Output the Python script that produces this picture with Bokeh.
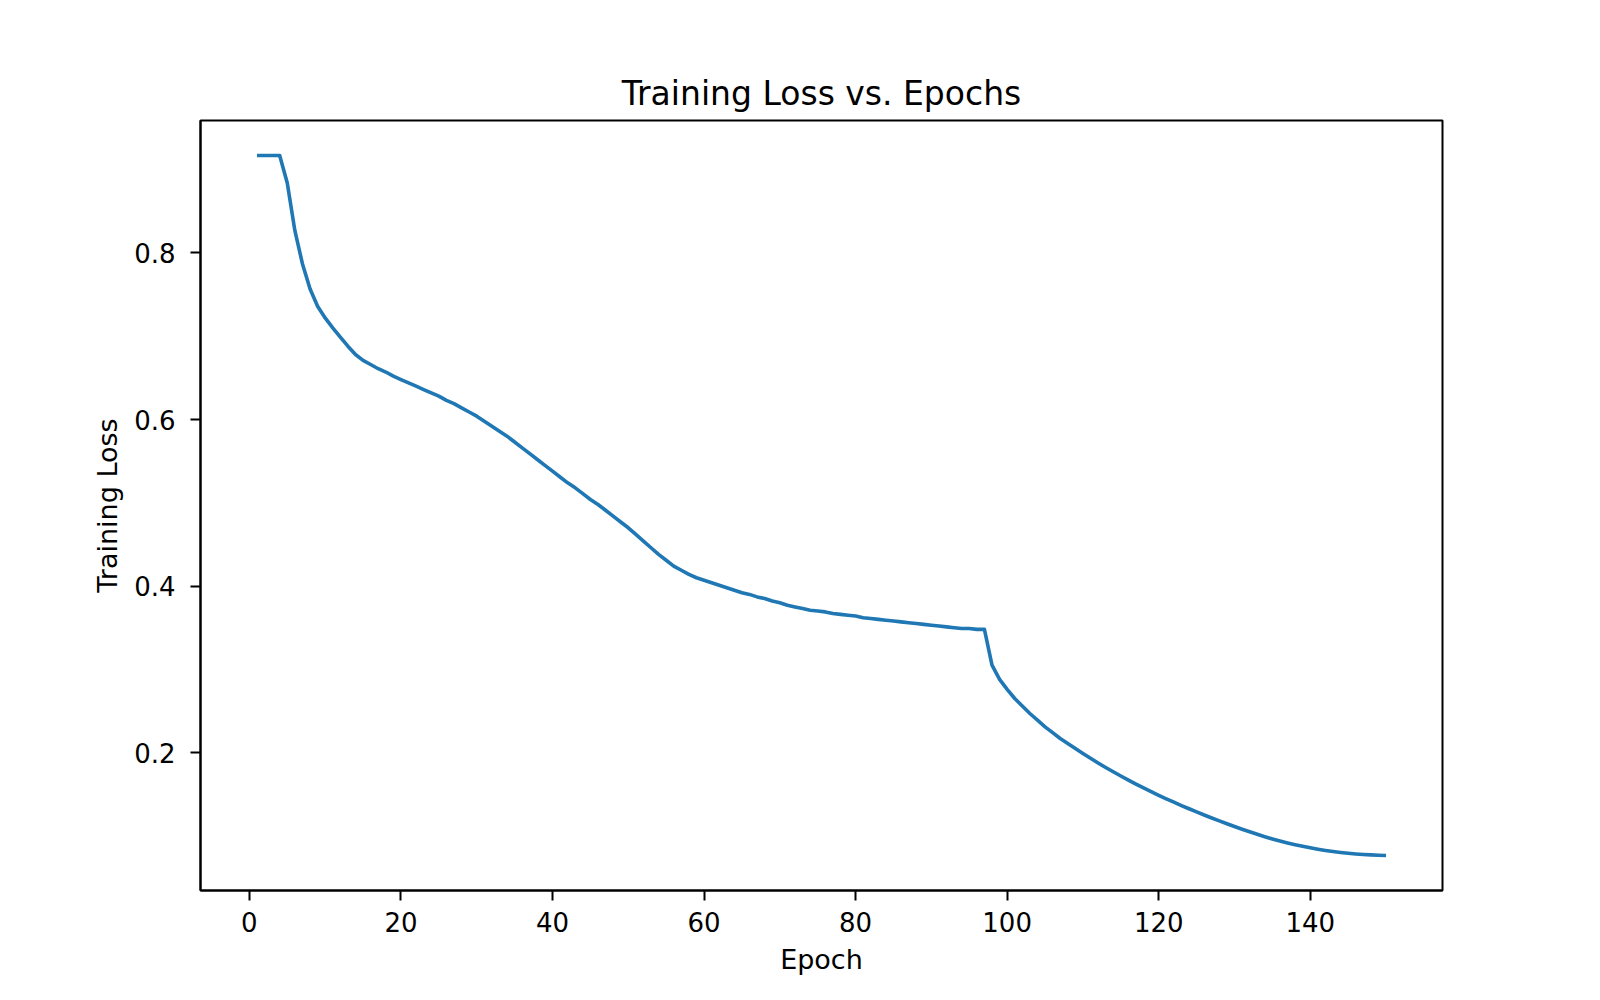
from bokeh.plotting import figure
from bokeh.models import Range1d, FixedTicker
from bokeh.embed import file_html
from bokeh.resources import INLINE

# Training loss recorded at every epoch (1..150)
epochs = list(range(1, 151))
loss = [
    0.917, 0.917, 0.917, 0.917, 0.884, 0.827, 0.787, 0.757, 0.736, 0.722,
    0.710, 0.699, 0.688, 0.678, 0.671, 0.666, 0.661, 0.657, 0.652, 0.648,
    0.644, 0.640, 0.636, 0.632, 0.628, 0.623, 0.619, 0.614, 0.609, 0.604,
    0.598, 0.592, 0.586, 0.580, 0.573, 0.566, 0.559, 0.552, 0.545, 0.538,
    0.531, 0.524, 0.518, 0.511, 0.504, 0.498, 0.491, 0.484, 0.477, 0.470,
    0.462, 0.454, 0.446, 0.438, 0.431, 0.424, 0.419, 0.414, 0.410, 0.407,
    0.404, 0.401, 0.398, 0.395, 0.392, 0.390, 0.387, 0.385, 0.382, 0.380,
    0.377, 0.375, 0.373, 0.371, 0.370, 0.369, 0.367, 0.366, 0.365, 0.364,
    0.362, 0.361, 0.360, 0.359, 0.358, 0.357, 0.356, 0.355, 0.354, 0.353,
    0.352, 0.351, 0.350, 0.349, 0.349, 0.348, 0.348, 0.305, 0.288, 0.276,
    0.265, 0.256, 0.247, 0.239, 0.231, 0.224, 0.217, 0.211, 0.205, 0.199,
    0.1932, 0.1876, 0.1822, 0.1770, 0.1720, 0.1671, 0.1623, 0.1577, 0.1532, 0.1488,
    0.1446, 0.1405, 0.1365, 0.1326, 0.1288, 0.1251, 0.1215, 0.1180, 0.1146, 0.1113,
    0.1081, 0.1050, 0.1020, 0.0991, 0.0964, 0.0939, 0.0916, 0.0895, 0.0875, 0.0857,
    0.0841, 0.0826, 0.0813, 0.0801, 0.0791, 0.0783, 0.0777, 0.0772, 0.0768, 0.0765,
]

x_ticks = [0, 20, 40, 60, 80, 100, 120, 140]
y_ticks = [0.2, 0.4, 0.6, 0.8]

# 5% padding around the data on both axes
xpad = 0.05 * (max(epochs) - min(epochs))
ypad = 0.05 * (max(loss) - min(loss))

FONT = "DejaVu Sans"

p = figure(
    width=1600, height=1000,
    output_backend="svg", toolbar_location=None,
    x_range=Range1d(min(epochs) - xpad, max(epochs) + xpad),
    y_range=Range1d(min(loss) - ypad, max(loss) + ypad),
    title="Training Loss vs. Epochs",
    min_border_left=200, min_border_right=158,
    min_border_top=120, min_border_bottom=110,
)

p.line(epochs, loss, line_color="#1f77b4", line_width=3.6,
       line_join="round", line_cap="butt")

p.title.align = "center"
p.title.text_font = FONT
p.title.text_font_size = "33px"
p.title.text_font_style = "normal"
p.title.text_color = "black"
p.title.standoff = 15

p.xgrid.visible = False
p.ygrid.visible = False
p.background_fill_color = "white"
p.border_fill_color = "white"
p.outline_line_color = "black"
p.outline_line_width = 2
p.outline_line_alpha = 1

p.xaxis.ticker = FixedTicker(ticks=x_ticks)
p.yaxis.ticker = FixedTicker(ticks=y_ticks)
p.xaxis.axis_label = "Epoch"
p.yaxis.axis_label = "Training Loss"

for ax in (p.xaxis[0], p.yaxis[0]):
    ax.axis_line_color = "black"
    ax.axis_line_width = 2
    ax.major_tick_line_color = "black"
    ax.major_tick_line_width = 2
    ax.major_tick_out = 10
    ax.major_tick_in = 0
    ax.minor_tick_line_color = None
    ax.major_label_text_font = FONT
    ax.major_label_text_font_size = "26px"
    ax.major_label_text_color = "black"
    ax.axis_label_text_font = FONT
    ax.axis_label_text_font_size = "27px"
    ax.axis_label_text_font_style = "normal"
    ax.axis_label_text_color = "black"

p.xaxis.major_label_standoff = 11
p.xaxis.axis_label_standoff = 9
p.yaxis.major_label_standoff = 15
p.yaxis.axis_label_standoff = 8

open("out.html", "w").write(file_html(p, INLINE))
